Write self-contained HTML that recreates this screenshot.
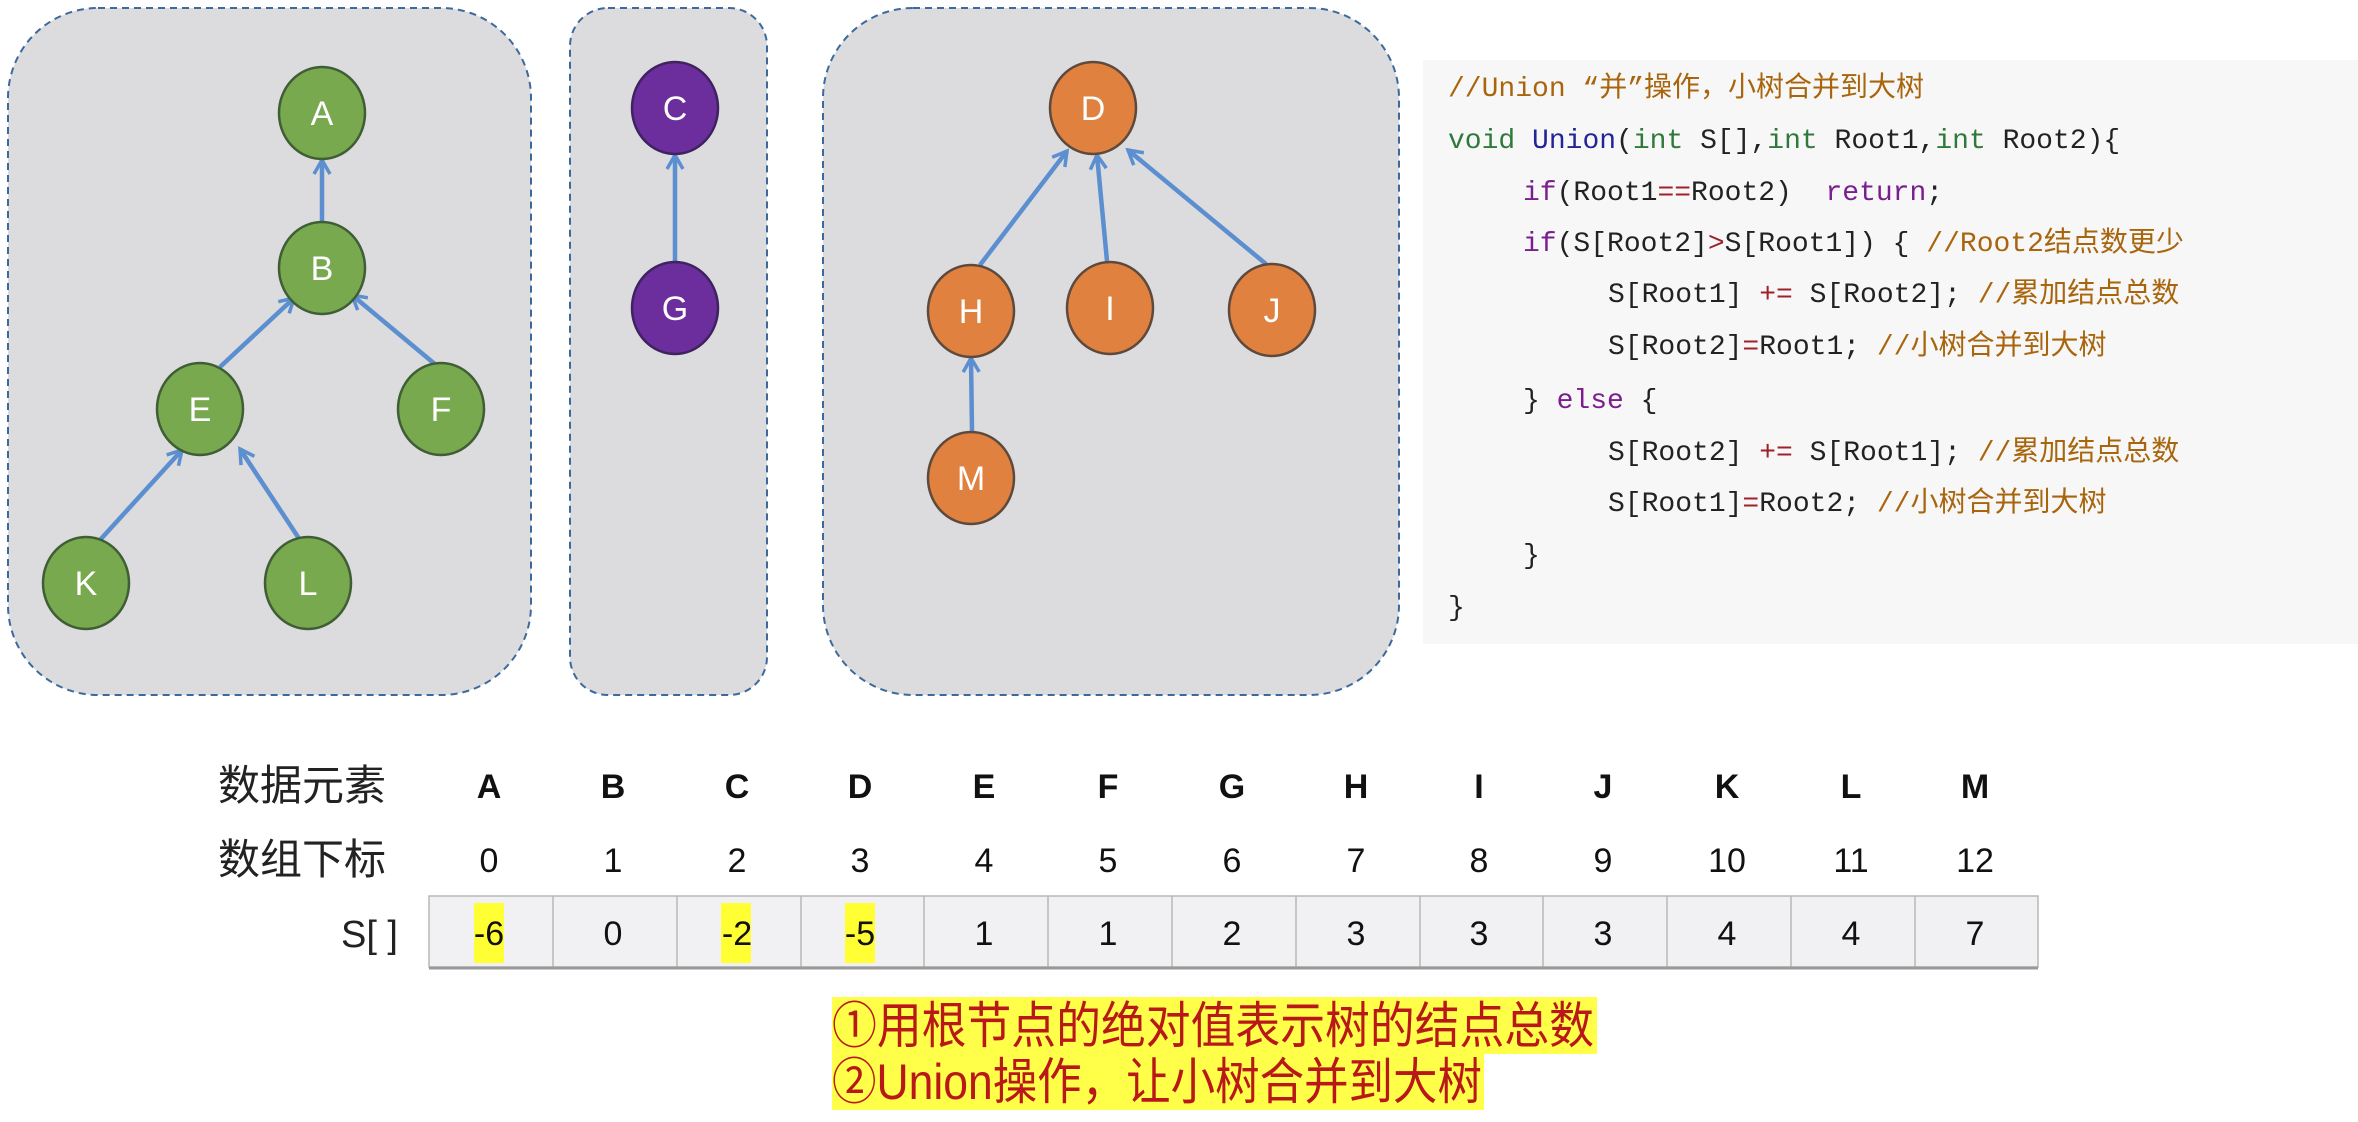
<!DOCTYPE html>
<html><head><meta charset="utf-8"><style>
html,body{margin:0;padding:0;background:#fff;}
svg{display:block;}
.code{font-family:"Liberation Mono","Noto Sans CJK SC",monospace;font-size:28px;white-space:pre;}
</style></head><body>
<svg width="2358" height="1122" viewBox="0 0 2358 1122" xmlns="http://www.w3.org/2000/svg">
<defs>
<marker id="ar" markerWidth="20" markerHeight="20" refX="17" refY="10" orient="auto" markerUnits="userSpaceOnUse" viewBox="0 0 20 20">
<path d="M3,2 L17,10 L3,18" fill="none" stroke="#5b8fd0" stroke-width="3.5"/>
</marker>
</defs>
<rect x="0" y="0" width="2358" height="1122" fill="#fff"/>
<g fill="#dcdbde" stroke="#3d6a9a" stroke-width="2" stroke-dasharray="7,5">
<rect x="8" y="8" width="523" height="687" rx="90"/>
<rect x="570" y="8" width="197" height="687" rx="38"/>
<rect x="823" y="8" width="576" height="687" rx="90"/>
</g>
<g stroke="#5b8fd0" stroke-width="4.5" fill="none" marker-end="url(#ar)">
<line x1="322" y1="221" x2="322" y2="160"/>
<line x1="220" y1="367" x2="294" y2="298"/>
<line x1="436" y1="365" x2="352" y2="295"/>
<line x1="100" y1="540" x2="182" y2="450"/>
<line x1="300" y1="540" x2="240" y2="449"/>
<line x1="675" y1="261" x2="675" y2="155"/>
<line x1="980" y1="265" x2="1067" y2="151"/>
<line x1="1107" y1="261" x2="1097" y2="155"/>
<line x1="1266" y1="264" x2="1128" y2="150"/>
<line x1="972" y1="431" x2="971" y2="358"/>
</g>
<g stroke-width="2.5" font-family="Liberation Sans, sans-serif" font-size="34" text-anchor="middle" fill="#fff">
<g fill="#78a94f" stroke="#3f5e35">
<ellipse cx="322" cy="113" rx="43" ry="46"/>
<ellipse cx="322" cy="268" rx="43" ry="46"/>
<ellipse cx="200" cy="409" rx="43" ry="46"/>
<ellipse cx="441" cy="409" rx="43" ry="46"/>
<ellipse cx="86" cy="583" rx="43" ry="46"/>
<ellipse cx="308" cy="583" rx="43" ry="46"/>
</g>
<g fill="#6b2e9c" stroke="#3e2360">
<ellipse cx="675" cy="108" rx="43" ry="46"/>
<ellipse cx="675" cy="308" rx="43" ry="46"/>
</g>
<g fill="#e0813f" stroke="#5e4a3c">
<ellipse cx="1093" cy="108" rx="43" ry="46"/>
<ellipse cx="971" cy="311" rx="43" ry="46"/>
<ellipse cx="1110" cy="308" rx="43" ry="46"/>
<ellipse cx="1272" cy="310" rx="43" ry="46"/>
<ellipse cx="971" cy="478" rx="43" ry="46"/>
</g>
<g stroke="none" fill="#fff">
<text x="322" y="125">A</text><text x="322" y="280">B</text><text x="200" y="421">E</text>
<text x="441" y="421">F</text><text x="86" y="595">K</text><text x="308" y="595">L</text>
<text x="675" y="120">C</text><text x="675" y="320">G</text>
<text x="1093" y="120">D</text><text x="971" y="323">H</text><text x="1110" y="320">I</text>
<text x="1272" y="322">J</text><text x="971" y="490">M</text>
</g>
</g>
<rect x="1423" y="60" width="935" height="584" fill="#f7f7f8"/>
<g class="code" fill="#222">
<text x="1448" y="96"><tspan fill="#a8650c">//Union “并”操作，小树合并到大树</tspan></text>
<text x="1448" y="148"><tspan fill="#2f7a3a">void</tspan> <tspan fill="#23239a">Union</tspan>(<tspan fill="#2f7a3a">int</tspan> S[],<tspan fill="#2f7a3a">int</tspan> Root1,<tspan fill="#2f7a3a">int</tspan> Root2){</text>
<text x="1523" y="200"><tspan fill="#7a1e8e">if</tspan>(Root1<tspan fill="#a0202a">==</tspan>Root2)&#160; <tspan fill="#7a1e8e">return</tspan>;</text>
<text x="1523" y="251"><tspan fill="#7a1e8e">if</tspan>(S[Root2]<tspan fill="#a0202a">&gt;</tspan>S[Root1]) { <tspan fill="#a8650c">//Root2结点数更少</tspan></text>
<text x="1608" y="302">S[Root1] <tspan fill="#a0202a">+=</tspan> S[Root2]; <tspan fill="#a8650c">//累加结点总数</tspan></text>
<text x="1608" y="354">S[Root2]<tspan fill="#a0202a">=</tspan>Root1; <tspan fill="#a8650c">//小树合并到大树</tspan></text>
<text x="1523" y="408">} <tspan fill="#7a1e8e">else</tspan> {</text>
<text x="1608" y="460">S[Root2] <tspan fill="#a0202a">+=</tspan> S[Root1]; <tspan fill="#a8650c">//累加结点总数</tspan></text>
<text x="1608" y="511">S[Root1]<tspan fill="#a0202a">=</tspan>Root2; <tspan fill="#a8650c">//小树合并到大树</tspan></text>
<text x="1523" y="563">}</text>
<text x="1448" y="615">}</text>
</g>
<g font-family="Liberation Sans, 'Noto Sans CJK SC', sans-serif" fill="#222">
<text x="218" y="800" font-size="42">数据元素</text>
<text x="218" y="874" font-size="42">数组下标</text>
<text x="398" y="947" font-size="38" text-anchor="end">S[ ]</text>
</g>
<rect x="429" y="896" width="1609" height="71" fill="#f1f0f3" stroke="#b8b8b8" stroke-width="1.5"/>
<g stroke="#b8b8b8" stroke-width="1.5">
<line x1="553" y1="896" x2="553" y2="967"/><line x1="677" y1="896" x2="677" y2="967"/>
<line x1="801" y1="896" x2="801" y2="967"/><line x1="924" y1="896" x2="924" y2="967"/>
<line x1="1048" y1="896" x2="1048" y2="967"/><line x1="1172" y1="896" x2="1172" y2="967"/>
<line x1="1296" y1="896" x2="1296" y2="967"/><line x1="1420" y1="896" x2="1420" y2="967"/>
<line x1="1543" y1="896" x2="1543" y2="967"/><line x1="1667" y1="896" x2="1667" y2="967"/>
<line x1="1791" y1="896" x2="1791" y2="967"/><line x1="1915" y1="896" x2="1915" y2="967"/>
</g>
<line x1="429" y1="968" x2="2038" y2="968" stroke="#999" stroke-width="3"/>
<g fill="#ffff33">
<rect x="474" y="903" width="30" height="60"/>
<rect x="721" y="903" width="30" height="60"/>
<rect x="845" y="903" width="30" height="60"/>
</g>
<g font-family="Liberation Sans, sans-serif" text-anchor="middle" fill="#111">
<g font-size="34" font-weight="bold">
<text x="489" y="798">A</text><text x="613" y="798">B</text><text x="737" y="798">C</text><text x="860" y="798">D</text>
<text x="984" y="798">E</text><text x="1108" y="798">F</text><text x="1232" y="798">G</text><text x="1356" y="798">H</text>
<text x="1479" y="798">I</text><text x="1603" y="798">J</text><text x="1727" y="798">K</text><text x="1851" y="798">L</text>
<text x="1975" y="798">M</text>
</g>
<g font-size="34">
<text x="489" y="872">0</text><text x="613" y="872">1</text><text x="737" y="872">2</text><text x="860" y="872">3</text>
<text x="984" y="872">4</text><text x="1108" y="872">5</text><text x="1232" y="872">6</text><text x="1356" y="872">7</text>
<text x="1479" y="872">8</text><text x="1603" y="872">9</text><text x="1727" y="872">10</text><text x="1851" y="872">11</text>
<text x="1975" y="872">12</text>
<text x="489" y="945">-6</text><text x="613" y="945">0</text><text x="737" y="945">-2</text><text x="860" y="945">-5</text>
<text x="984" y="945">1</text><text x="1108" y="945">1</text><text x="1232" y="945">2</text><text x="1356" y="945">3</text>
<text x="1479" y="945">3</text><text x="1603" y="945">3</text><text x="1727" y="945">4</text><text x="1851" y="945">4</text>
<text x="1975" y="945">7</text>
</g>
</g>
<rect x="832" y="997" width="765" height="57" fill="#ffff4a"/>
<rect x="832" y="1053" width="652" height="57" fill="#ffff4a"/>
<g font-family="Liberation Sans, 'Noto Sans CJK SC', sans-serif" font-size="50" fill="#b81818">
<text x="832" y="1043" textLength="762" lengthAdjust="spacingAndGlyphs">①用根节点的绝对值表示树的结点总数</text>
<text x="832" y="1099" textLength="650" lengthAdjust="spacingAndGlyphs">②Union操作，让小树合并到大树</text>
</g>
</svg>
</body></html>
